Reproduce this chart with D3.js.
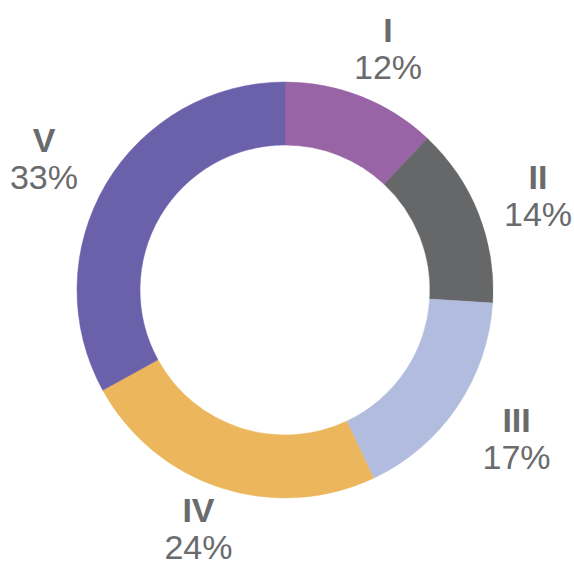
<!DOCTYPE html>
<html lang="en">
<head>
  <meta charset="UTF-8">
  <title>Donut</title>
  <script src="https://d3js.org/d3.v7.min.js"></script>
  <style>
    body {
      margin: 0;
      padding: 0;
      background-color: #fff;
    }
    .label text {
      font-family: "Liberation Sans", Arial, sans-serif;
      font-size: 34px;
      fill: #6a6b6d;
      text-anchor: middle;
    }
    .label .name {
      font-weight: bold;
    }
  </style>
</head>
<body>
  <div id="chart"></div>
  <script>
    // Data
    const categories = ['I', 'II', 'III', 'IV', 'V'];
    const values = [12, 14, 17, 24, 33];
    const colors = ['#9964a6', '#666768', '#b2bcdf', '#ebb65c', '#6b61ab'];

    const width = 574;
    const height = 568;
    const cx = 285, cy = 290;
    const outerR = 208, innerR = 145;
    // labels sit on a slightly wide ellipse around the ring
    const labelRx = 280, labelRy = 262;
    const blockHalf = 33; // half height of the two-line label
    const blockHalfW = 36;

    const svg = d3.select('#chart')
      .append('svg')
      .attr('width', width)
      .attr('height', height);

    const data = categories.map((c, i) => ({ name: c, value: values[i], color: colors[i] }));

    const pie = d3.pie()
      .value(d => d.value)
      .sort(null);

    const arcs = pie(data);

    const arc = d3.arc()
      .innerRadius(innerR)
      .outerRadius(outerR);

    const g = svg.append('g')
      .attr('transform', `translate(${cx}, ${cy})`);

    g.selectAll('path')
      .data(arcs)
      .enter()
      .append('path')
      .attr('d', arc)
      .attr('fill', d => d.data.color)
      .attr('stroke', d => d.data.color)
      .attr('stroke-width', 0.5);

    // label position: mid angle on the ellipse, kept inside the canvas
    function labelPos(d) {
      const a = (d.startAngle + d.endAngle) / 2;
      let x = labelRx * Math.sin(a);
      let y = -labelRy * Math.cos(a);
      x = Math.max(blockHalfW - cx, Math.min(width - cx - blockHalfW, x));
      y = Math.max(blockHalf - cy + 14, Math.min(height - cy - blockHalf - 8, y));
      return [x, y];
    }

    const label = g.selectAll('g.label')
      .data(arcs)
      .enter()
      .append('g')
      .attr('class', 'label')
      .attr('transform', d => `translate(${labelPos(d)})`);

    label.append('text')
      .attr('class', 'name')
      .attr('y', -5)
      .text(d => d.data.name);

    label.append('text')
      .attr('y', 32)
      .text(d => d.data.value + '%');
  </script>
</body>
</html>
